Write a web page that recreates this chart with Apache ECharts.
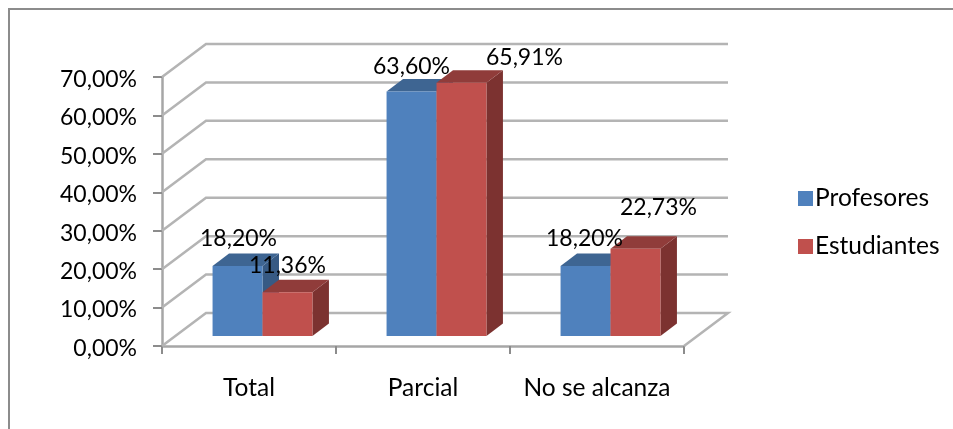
<!DOCTYPE html>
<html><head><meta charset="utf-8">
<style>html,body{margin:0;padding:0;background:#fff}#c{width:953px;height:429px}</style>
<script src="https://cdn.jsdelivr.net/npm/echarts@6/dist/echarts.min.js"></script>
</head><body><div id="c"></div>
<script>
const categories = ['Total', 'Parcial', 'No se alcanza'];
const profesores = [18.20, 63.60, 18.20];
const estudiantes = [11.36, 65.91, 22.73];
const tickValues = [0, 10, 20, 30, 40, 50, 60, 70];

const FONT = 'Lato, sans-serif';
const FS = 23, FS_CAT = 24.5;
const fmt = v => v.toFixed(2).replace('.', ',') + '%';
const wallDX = 44, wallDY = 33, barDX = 16.5, barDY = 12.5, frontDX = 13.5, frontDY = 10, barFrac = 0.287;
const labelShift = {
  Profesores: [[1, -27], [0, -25.5], [-1, -27]],
  Estudiantes: [[0, -27], [63, -25.5], [23, -41.5]]
};

function wall(params, api) {
  const v = api.value(1), cs = params.coordSys;
  const p = api.coord([0, v]);
  const x0 = cs.x, x1 = cs.x + cs.width, y = p[1];
  const line = {stroke: '#b4b4b4', lineWidth: 2.5, fill: null};
  const pts = [[x0, y], [x0 + wallDX, y - wallDY], [x1 + wallDX, y - wallDY]];
  if (v === 0) pts.push([x1, y]);
  return {type: 'polyline', shape: {points: pts}, style: line, silent: true};
}
function bar(side, front, top, right) {
  return function (params, api) {
    const c = api.value(0), v = api.value(1);
    const band = api.size([1, 0])[0], w = band * barFrac;
    const b = api.coord([c, 0]), t = api.coord([c, v]);
    const xl = b[0] + frontDX + (side < 0 ? -w : 0), xr = xl + w;
    const yb = b[1] - frontDY, yt = t[1] - frontDY;
    const poly = (points, fill) => ({type: 'polygon', shape: {points}, style: {fill, stroke: null}});
    return {type: 'group', children: [
      poly([[xr, yb], [xr + barDX, yb - barDY], [xr + barDX, yt - barDY], [xr, yt]], right),
      poly([[xl, yt], [xr, yt], [xr + barDX, yt - barDY], [xl + barDX, yt - barDY]], top),
      {type: 'rect', shape: {x: xl, y: yt, width: w, height: yb - yt}, style: {fill: front}}
    ]};
  };
}
function valueLabel(side, name) {
  return function (params, api) {
    const c = api.value(0), v = api.value(1);
    const band = api.size([1, 0])[0], w = band * barFrac;
    const t = api.coord([c, v]);
    const s = labelShift[name][params.dataIndex];
    return {type: 'text', style: {
      text: fmt(v), x: t[0] + frontDX + side * w / 2 + s[0], y: t[1] - frontDY + s[1],
      textAlign: 'center', textVerticalAlign: 'middle', font: FS + 'px ' + FONT, fill: '#000'
    }};
  };
}
const pairs = a => a.map((v, i) => [i, v]);
const chart = echarts.init(document.getElementById('c'), null, {renderer: 'canvas'});
chart.setOption({
  animation: false,
  backgroundColor: '#fff',
  textStyle: {fontFamily: FONT},
  graphic: [{type: 'polyline', silent: true, z: -1,
    shape: {points: [[9, 429], [9, 9], [953, 9]]},
    style: {fill: null, stroke: '#8c8c8c', lineWidth: 2}}],
  grid: {left: 162, right: 269, top: 77, bottom: 83},
  legend: {
    left: 793, top: 181, orient: 'vertical', itemWidth: 15, itemHeight: 15, itemGap: 23,
    icon: 'rect', data: ['Profesores', 'Estudiantes'],
    textStyle: {fontSize: FS_CAT, fontFamily: FONT, color: '#000', padding: [0, 0, 0, -3]}
  },
  xAxis: {type: 'category', data: categories,
    axisLine: {lineStyle: {color: '#a6a6a6', width: 2.5}},
    axisTick: {show: true, interval: 0, length: 8, alignWithLabel: false, lineStyle: {color: '#8c8c8c', width: 2}},
    axisLabel: {color: '#000', fontSize: FS_CAT, fontFamily: FONT, margin: 30, interval: 0, hideOverlap: false}},
  yAxis: {type: 'value', min: 0, max: 70, interval: 10,
    splitLine: {show: false},
    axisLine: {show: true, lineStyle: {color: '#a6a6a6', width: 2.5}},
    axisTick: {show: true, length: 9, lineStyle: {color: '#8c8c8c', width: 2}},
    axisLabel: {color: '#000', fontSize: FS, fontFamily: FONT, margin: 25, verticalAlign: 'top', padding: [-9, 0, 0, 0], formatter: fmt}},
  series: [
    {type: 'custom', z: 1, silent: true, data: tickValues.map(v => [0, v]), renderItem: wall, encode: {x: 0, y: 1}},
    {type: 'custom', name: 'Profesores', z: 3, data: pairs(profesores), encode: {x: 0, y: 1},
      itemStyle: {color: '#4F81BD'}, renderItem: bar(-1, '#4F81BD', '#3E6592', '#375A84')},
    {type: 'custom', name: 'Estudiantes', z: 4, data: pairs(estudiantes), encode: {x: 0, y: 1},
      itemStyle: {color: '#C0504D'}, renderItem: bar(1, '#C0504D', '#903C3A', '#7C3230')},
    {type: 'custom', z: 5, silent: true, data: pairs(profesores), encode: {x: 0, y: 1}, renderItem: valueLabel(-1, 'Profesores')},
    {type: 'custom', z: 5, silent: true, data: pairs(estudiantes), encode: {x: 0, y: 1}, renderItem: valueLabel(1, 'Estudiantes')}
  ]
});
</script></body></html>
